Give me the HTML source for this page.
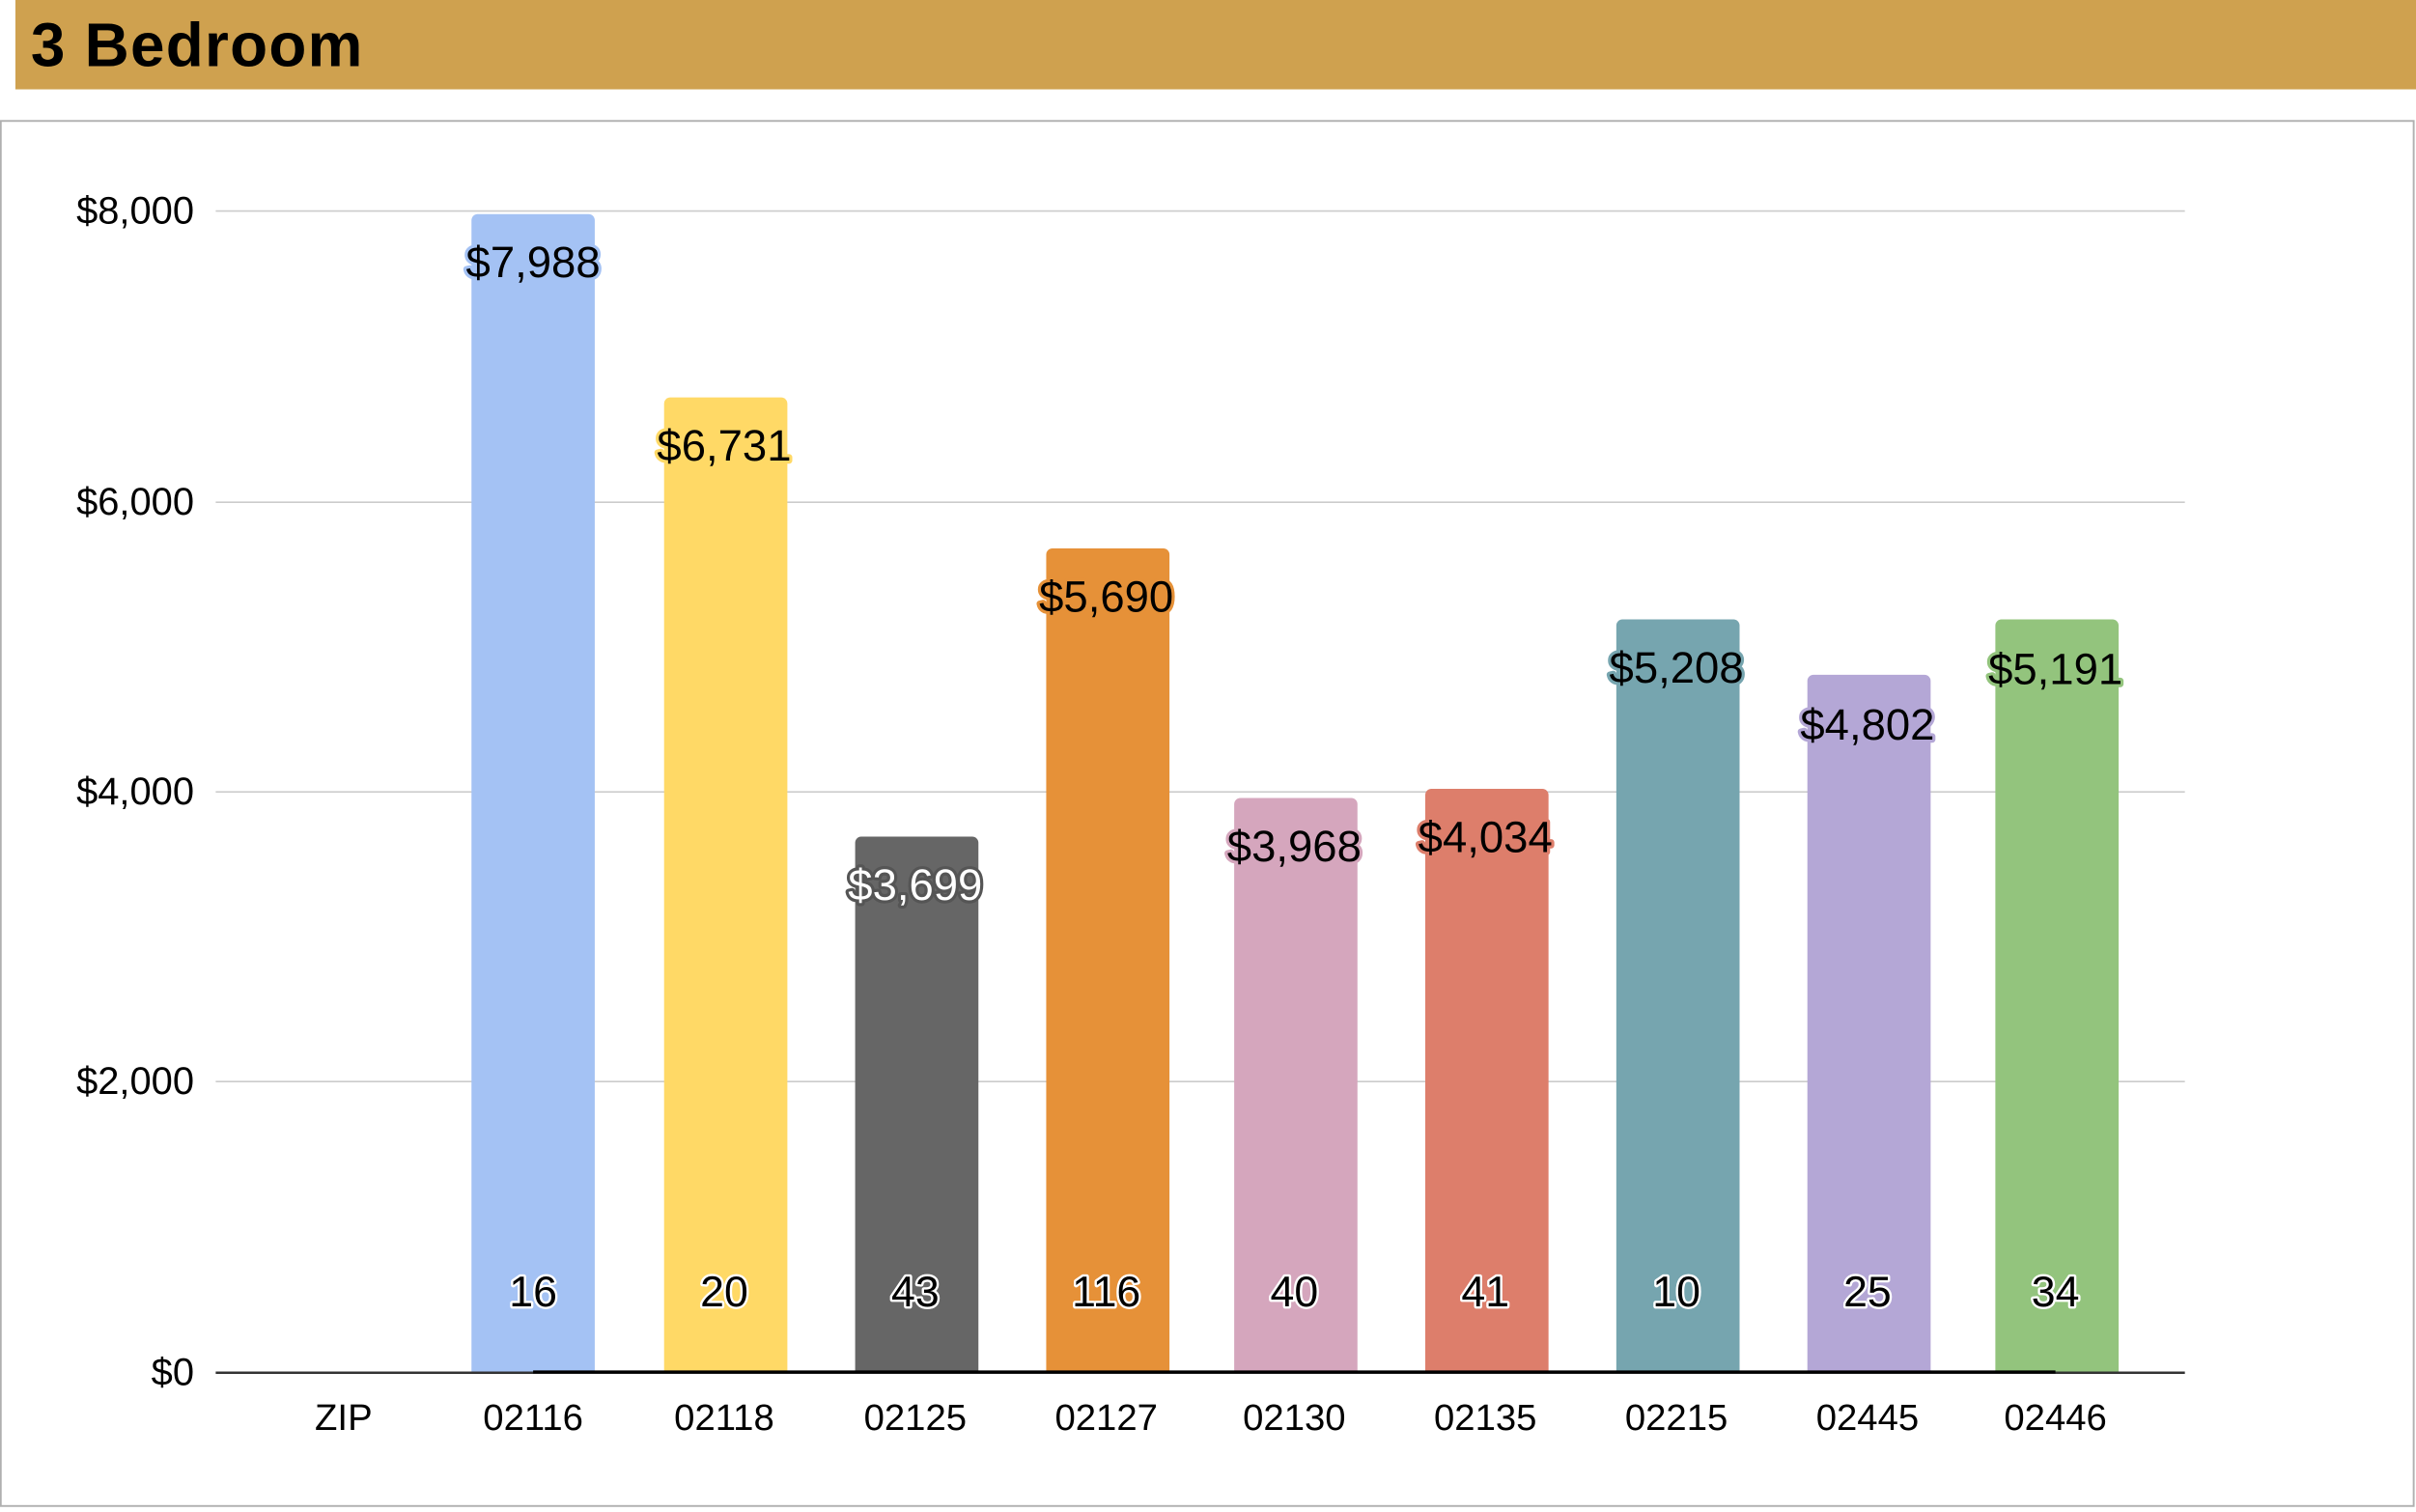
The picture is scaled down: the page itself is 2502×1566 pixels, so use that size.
<!DOCTYPE html>
<html><head><meta charset="utf-8"><style>
html,body{margin:0;padding:0;background:#fff;width:2502px;height:1566px;overflow:hidden}
svg{display:block}
text{font-family:"Liberation Sans","DejaVu Sans",sans-serif}
</style></head><body>
<svg width="2502" height="1566" viewBox="0 0 1568 981.4" preserveAspectRatio="none">
<rect x="10" y="0" width="1558" height="58" fill="#cfa14f"/>
<text x="20" y="43" font-size="40" font-weight="bold" fill="#000" letter-spacing="0.8">3 Bedroom</text>
<rect x="0.5" y="78.5" width="1566" height="899" fill="#fff" stroke="#b0b0b0" stroke-width="1.2"/>
<g stroke="#cccccc" stroke-width="1">
<line x1="140" y1="137" x2="1418" y2="137"/>
<line x1="140" y1="326" x2="1418" y2="326"/>
<line x1="140" y1="514" x2="1418" y2="514"/>
<line x1="140" y1="702" x2="1418" y2="702"/>
</g>
<g font-size="25" fill="#000" text-anchor="end">
<text x="126" y="145">$8,000</text>
<text x="126" y="334">$6,000</text>
<text x="126" y="522">$4,000</text>
<text x="126" y="710">$2,000</text>
<text x="126" y="899">$0</text>
</g>
<g>
<path d="M306,891 V143 a4,4 0 0 1 4,-4 H382 a4,4 0 0 1 4,4 V891Z" fill="#a4c2f4"/>
<path d="M431,891 V262 a4,4 0 0 1 4,-4 H507 a4,4 0 0 1 4,4 V891Z" fill="#ffd966"/>
<path d="M555,891 V547 a4,4 0 0 1 4,-4 H631 a4,4 0 0 1 4,4 V891Z" fill="#666666"/>
<path d="M679,891 V360 a4,4 0 0 1 4,-4 H755 a4,4 0 0 1 4,4 V891Z" fill="#e69138"/>
<path d="M801,891 V522 a4,4 0 0 1 4,-4 H877 a4,4 0 0 1 4,4 V891Z" fill="#d5a6bd"/>
<path d="M925,891 V516 a4,4 0 0 1 4,-4 H1001 a4,4 0 0 1 4,4 V891Z" fill="#dd7e6b"/>
<path d="M1049,891 V406 a4,4 0 0 1 4,-4 H1125 a4,4 0 0 1 4,4 V891Z" fill="#76a5af"/>
<path d="M1173,891 V442 a4,4 0 0 1 4,-4 H1249 a4,4 0 0 1 4,4 V891Z" fill="#b4a7d6"/>
<path d="M1295,891 V406 a4,4 0 0 1 4,-4 H1371 a4,4 0 0 1 4,4 V891Z" fill="#93c47d"/>
</g>
<line x1="140" y1="891" x2="1418" y2="891" stroke="#333" stroke-width="1.5"/>
<line x1="346" y1="890.5" x2="1334" y2="890.5" stroke="#000" stroke-width="2"/>
<g font-size="28.5" text-anchor="middle" stroke-width="4" paint-order="stroke" stroke-linejoin="round">
<text x="346" y="180" fill="#000" stroke="#a4c2f4">$7,988</text>
<text x="470" y="299" fill="#000" stroke="#ffd966">$6,731</text>
<text x="594" y="584" fill="#fff" stroke="#555">$3,699</text>
<text x="718" y="397" fill="#000" stroke="#e69138">$5,690</text>
<text x="840" y="559" fill="#000" stroke="#d5a6bd">$3,968</text>
<text x="964" y="553" fill="#000" stroke="#dd7e6b">$4,034</text>
<text x="1088" y="443" fill="#000" stroke="#76a5af">$5,208</text>
<text x="1212" y="480" fill="#000" stroke="#b4a7d6">$4,802</text>
<text x="1334" y="444" fill="#000" stroke="#93c47d">$5,191</text>
</g>
<g font-size="28" text-anchor="middle" fill="#000" stroke="#fff" stroke-width="3" paint-order="stroke" stroke-linejoin="round">
<text x="346" y="848">16</text>
<text x="470" y="848">20</text>
<text x="594" y="848">43</text>
<text x="718" y="848">116</text>
<text x="840" y="848">40</text>
<text x="964" y="848">41</text>
<text x="1088" y="848">10</text>
<text x="1212" y="848">25</text>
<text x="1334" y="848">34</text>
</g>
<g font-size="24" text-anchor="middle" fill="#000">
<text x="223" y="928">ZIP</text>
<text x="346" y="928">02116</text>
<text x="470" y="928">02118</text>
<text x="594" y="928">02125</text>
<text x="718" y="928">02127</text>
<text x="840" y="928">02130</text>
<text x="964" y="928">02135</text>
<text x="1088" y="928">02215</text>
<text x="1212" y="928">02445</text>
<text x="1334" y="928">02446</text>
</g>
</svg>
</body></html>
